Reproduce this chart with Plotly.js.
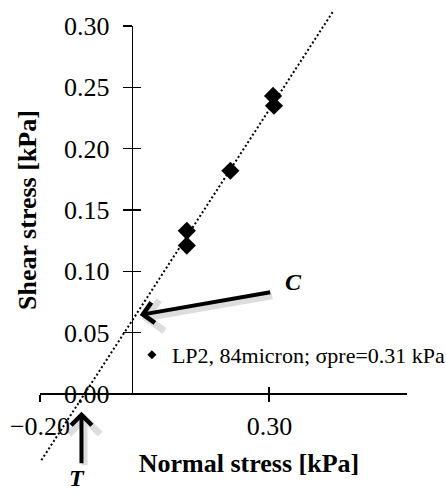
<!DOCTYPE html>
<html><head><meta charset="utf-8">
<script src="https://cdn.plot.ly/plotly-3.0.1.min.js"></script>
<style>html,body{margin:0;padding:0;background:#fff}#chart{width:446px;height:493px}</style>
</head><body><div id="chart"></div>
<script>
// Data
const normalStress = [0.12, 0.12, 0.215, 0.308, 0.31];
const shearStress  = [0.133, 0.121, 0.182, 0.243, 0.235];
// Dotted trendline end points (as drawn in the reference)
const trendNormal = [-0.197, 0.439];
const trendShear  = [-0.054, 0.312];
const seriesName = 'LP2, 84micron; σpre=0.31 kPa';
const xTicks = [-0.2, 0.3];
const yTicks = [0, 0.05, 0.1, 0.15, 0.2, 0.25, 0.3];
const xTitle = 'Normal stress [kPa]';
const yTitle = 'Shear stress [kPa]';
const labelC = 'C';
const labelT = 'T';

const serif = '"Liberation Serif", "Times New Roman", serif';
const xRange = [-0.2, 0.6];
const yRange = [-0.0579, 0.3147];
const ySpan = yRange[1] - yRange[0];
const xAxisPos = (0 - yRange[0]) / ySpan;                 // paper y of the x axis (y = 0)
const yAxisPos = (0 - xRange[0]) / (xRange[1] - xRange[0]); // paper x of the y axis (x = 0)
const yAxisTop = (yTicks[yTicks.length - 1] - yRange[0]) / ySpan;

const traces = [
  {x: trendNormal, y: trendShear, mode: 'lines', showlegend: false, hoverinfo: 'skip',
   line: {color: '#000', width: 2, dash: '2px,2.4px'}},
  {x: normalStress, y: shearStress, mode: 'markers', showlegend: false,
   marker: {symbol: 'diamond', size: 14, color: '#000'}},
  // legend entry (small symbol, as in the reference legend)
  {x: [null], y: [null], xaxis: 'x2', yaxis: 'y2', mode: 'markers', name: seriesName,
   marker: {symbol: 'diamond', size: 7, color: '#000'}},
  // holder for the inner half of the x-axis cross ticks
  {x: [null], y: [null], xaxis: 'x3', yaxis: 'y', mode: 'markers', showlegend: false, hoverinfo: 'skip'}
];

const tickFont = {family: serif, size: 26, color: '#000'};
const titleFont = {family: serif, size: 26, color: '#000', weight: 'bold'};
const labelFont = {family: serif, size: 24, color: '#000', weight: 'bold', style: 'italic'};

const layout = {
  width: 446, height: 493,
  margin: {l: 40, r: 39, t: 8, b: 28, autoexpand: false},
  paper_bgcolor: '#fff', plot_bgcolor: 'rgba(0,0,0,0)',
  showlegend: true,
  // main x axis: line at y = 0, outer ticks and labels
  xaxis: {range: xRange, anchor: 'free', position: xAxisPos, showline: true, linecolor: '#000', linewidth: 2,
    ticks: 'outside', ticklen: 7, tickwidth: 2, tickcolor: '#000', tickvals: xTicks, tickformat: '.2f',
    ticklabelstandoff: 2, tickfont: tickFont, showgrid: false, zeroline: false},
  // carries the x title (centred as in the reference)
  xaxis2: {domain: [0.139, 1], range: xRange, anchor: 'free', position: xAxisPos, showline: false,
    ticks: '', showticklabels: false, showgrid: false, zeroline: false,
    title: {text: xTitle, font: titleFont, standoff: 59}},
  xaxis3: {range: xRange, overlaying: 'x', anchor: 'free', position: xAxisPos, showline: false,
    ticks: 'inside', ticklen: 7, tickwidth: 2, tickcolor: '#000', tickvals: xTicks,
    showticklabels: false, showgrid: false, zeroline: false},
  // main y axis: outer ticks and labels
  yaxis: {range: yRange, anchor: 'free', position: yAxisPos, showline: false,
    ticks: 'outside', ticklen: 9, tickwidth: 1.3, tickcolor: '#000', tickvals: yTicks, tickformat: '.2f',
    ticklabelstandoff: 8, tickfont: tickFont, showgrid: false, zeroline: false},
  // y axis line from 0 to 0.30, inner ticks, and the y title
  yaxis2: {domain: [xAxisPos, yAxisTop], range: [yTicks[0], yTicks[yTicks.length - 1]],
    anchor: 'free', position: yAxisPos, showline: true, linecolor: '#000', linewidth: 1.3,
    ticks: 'inside', ticklen: 8, tickwidth: 1.3, tickcolor: '#000', tickvals: yTicks,
    showticklabels: false, showgrid: false, zeroline: false,
    title: {text: yTitle, font: titleFont, standoff: 86}},
  legend: {x: 0.2504, xanchor: 'left', y: 0.2407, yanchor: 'middle', bgcolor: 'rgba(0,0,0,0)',
    font: {family: serif, size: 22, color: '#000'}},
  annotations: [
    {x: 0.0174, y: 0.0644, xref: 'x', yref: 'y', ax: 132, ay: -23, text: '', showarrow: true,
     arrowhead: 4, arrowsize: 1, arrowwidth: 6, arrowcolor: 'rgba(0,0,0,0.13)', xshift: 2, yshift: -4},
    {x: 0.0174, y: 0.0644, xref: 'x', yref: 'y', ax: 132, ay: -23, text: '', showarrow: true,
     arrowhead: 4, arrowsize: 1, arrowwidth: 4, arrowcolor: '#000'},
    {x: 0.353, y: 0.0913, xref: 'x', yref: 'y', text: labelC, showarrow: false, font: labelFont},
    {x: -0.1096, y: -0.0144, xref: 'x', yref: 'y', ax: 0, ay: 53, text: '', showarrow: true,
     arrowhead: 4, arrowsize: 1, arrowwidth: 6, arrowcolor: 'rgba(0,0,0,0.13)', xshift: 3, yshift: -2},
    {x: -0.1096, y: -0.0144, xref: 'x', yref: 'y', ax: 0, ay: 53, text: '', showarrow: true,
     arrowhead: 4, arrowsize: 1, arrowwidth: 4, arrowcolor: '#000'},
    {x: -0.1198, y: -0.0284, xref: 'x', yref: 'paper', yanchor: 'middle', text: labelT, showarrow: false, font: labelFont}
  ]
};

Plotly.newPlot('chart', traces, layout, {displayModeBar: false, staticPlot: true});
</script></body></html>
